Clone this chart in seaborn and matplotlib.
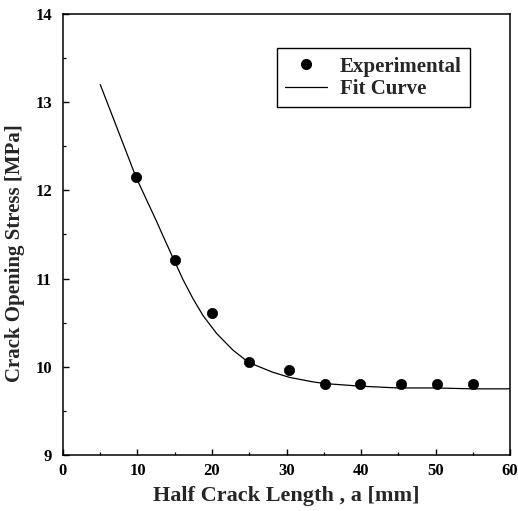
import matplotlib
matplotlib.use("Agg")
import matplotlib.pyplot as plt
from matplotlib.lines import Line2D
from matplotlib.ticker import MultipleLocator
import seaborn as sns
import pandas as pd

# Measured crack opening stress versus half crack length
exp_length = [9.8, 15.0, 20.0, 25.0, 30.3, 35.1, 39.8, 45.4, 50.2, 55.0]
exp_stress = [12.15, 11.21, 10.61, 10.05, 9.96, 9.81, 9.80, 9.80, 9.80, 9.80]

# Fitted curve through the measurements
fit_length = [5.0, 7.2, 9.8, 12.5, 13.5, 14.9, 16.1, 17.4, 18.8, 20.6, 22.8,
              24.9, 28.1, 30.4, 33.5, 35.1, 40.0, 45.0, 50.0, 55.0, 60.0]
fit_stress = [13.20, 12.72, 12.15, 11.66, 11.47, 11.21, 10.99, 10.78, 10.58, 10.38, 10.19,
              10.05, 9.94, 9.88, 9.83, 9.81, 9.78, 9.76, 9.76, 9.75, 9.75]

x_label = "Half Crack Length , a [mm]"
y_label = "Crack Opening Stress [MPa]"
legend_labels = ["Experimental", "Fit Curve"]

exp_df = pd.DataFrame({"a": exp_length, "stress": exp_stress})
fit_df = pd.DataFrame({"a": fit_length, "stress": fit_stress})

sns.set_theme(style="ticks")
plt.rcParams["font.family"] = ["Liberation Serif", "DejaVu Serif"]
plt.rcParams["font.weight"] = "bold"

fig = plt.figure(figsize=(5.18, 5.11), dpi=100)
ax = fig.add_axes([0.1216, 0.1096, 0.8630, 0.8630])

sns.lineplot(data=fit_df, x="a", y="stress", ax=ax, color="black",
             linewidth=0.9, sort=False)
sns.scatterplot(data=exp_df, x="a", y="stress", ax=ax, color="black",
                s=55, edgecolor="black", linewidth=0.5, zorder=3)

ax.set_xlim(0, 60)
ax.set_ylim(9, 14)
ax.xaxis.set_major_locator(MultipleLocator(10))
ax.xaxis.set_minor_locator(MultipleLocator(5))
ax.yaxis.set_major_locator(MultipleLocator(1))
ax.yaxis.set_minor_locator(MultipleLocator(0.5))
ax.tick_params(which="both", direction="in", top=False, right=False,
               colors="black", labelsize=12)
ax.tick_params(which="major", length=4.5, width=1.0)
ax.tick_params(which="minor", length=2.5, width=0.9)
ax.tick_params(axis="x", pad=6)
ax.tick_params(axis="y", pad=8)
for lbl in ax.get_xticklabels() + ax.get_yticklabels():
    lbl.set_fontweight("bold")

for side in ["top", "right", "left", "bottom"]:
    ax.spines[side].set_visible(True)
    ax.spines[side].set_color("black")
    ax.spines[side].set_linewidth(1.1)

ax.set_xlabel(x_label, fontsize=16, fontweight="bold", labelpad=5)
ax.set_ylabel(y_label, fontsize=15, fontweight="bold")
ax.yaxis.set_label_coords(-0.085, 0.458)

handles = [
    Line2D([], [], marker="o", color="black", linestyle="none", markersize=7),
    Line2D([], [], color="black", linewidth=0.9),
]
leg = ax.legend(handles, legend_labels, loc="upper left",
                bbox_to_anchor=(0.479, 0.922), frameon=True, fancybox=False,
                edgecolor="black", framealpha=1, prop={"size": 15, "weight": "bold"},
                handlelength=2.0, handletextpad=0.6, labelspacing=0.1,
                borderpad=0.4, borderaxespad=0.0)
leg.get_frame().set_linewidth(1.0)

fig.savefig("out.png", dpi=100, facecolor="white")
